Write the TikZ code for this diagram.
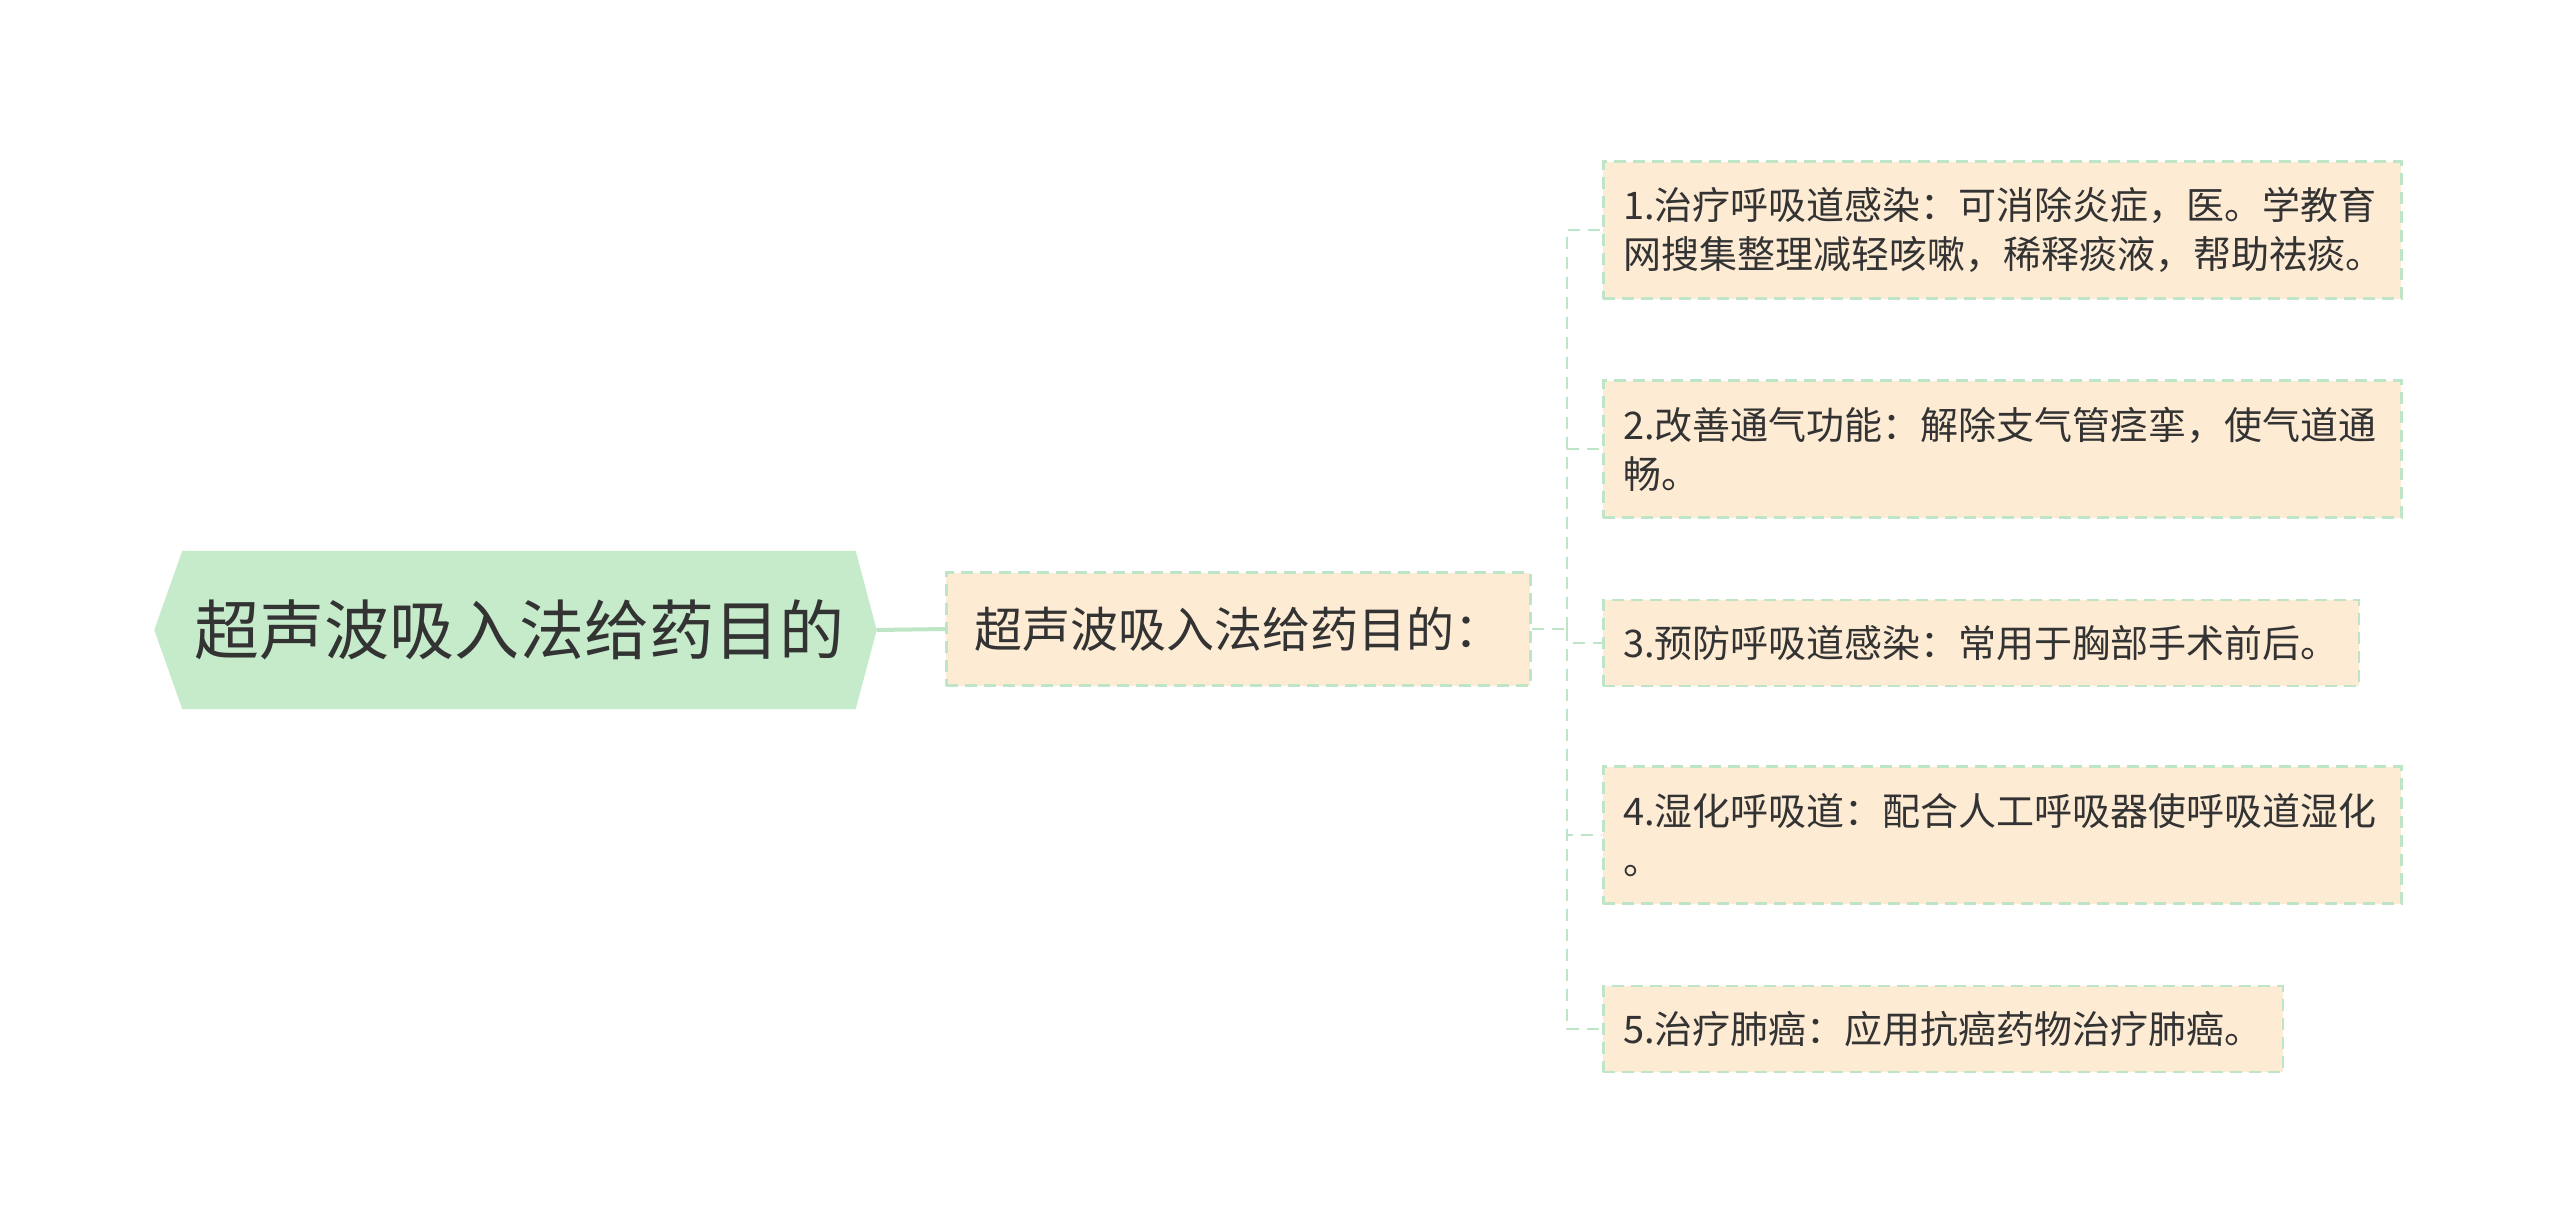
\documentclass[tikz,border=0pt]{standalone}
\usepackage{fontspec}
\setmainfont{Noto Sans CJK SC}
\usetikzlibrary{backgrounds}
\definecolor{rootgreen}{HTML}{C6EBCB}
\definecolor{boxpeach}{HTML}{FDEBD4}
\definecolor{linkgreen}{HTML}{BEE5C6}
\definecolor{inkgray}{HTML}{333333}
\tikzset{
  root node/.style={inner sep=0pt, minimum width=673pt, minimum height=158pt,
    text=inkgray, font=\fontsize{65}{78}\selectfont},
  topic box/.style={fill=boxpeach, draw=linkgreen, line width=2.5pt,
    dash pattern=on 12pt off 7pt, anchor=west, inner xsep=28pt, inner ysep=0pt,
    minimum height=113pt, text=inkgray, font=\fontsize{48}{58}\selectfont},
  item box/.style={fill=boxpeach, draw=linkgreen, line width=2.5pt,
    dash pattern=on 12pt off 7pt, anchor=west, inner xsep=20pt, inner ysep=0pt,
    align=left, text=inkgray, font=\fontsize{38}{49}\selectfont},
  root link/.style={draw=linkgreen, line width=4pt},
  branch link/.style={draw=linkgreen, line width=2.5pt, dash pattern=on 12pt off 8pt}
}

\begin{document}
\begin{tikzpicture}[x=1pt,y=-1pt]
	%% canvas, same size as the picture
	\useasboundingbox (0,0) rectangle (2560,1229);

	\def\forkX{1567} % x of the dashed trunk
	\def\itemX{1602} % left edge of the items

	%% root, a hexagon behind the text
	\node[root node] (root) at (519,630) {超声波吸入法给药目的};
	\coordinate (root tip) at ([xshift=21pt]root.east);
	\begin{scope}[on background layer]
		\fill[white] (0,0) rectangle (2560,1229);
		\fill[rootgreen] (root.north west) -- (root.north east) -- (root tip)
		  -- (root.south east) -- (root.south west) -- ([xshift=-28pt]root.west) -- cycle;
	\end{scope}

	%% middle topic
	\node[topic box] (topic) at (945,629) {超声波吸入法给药目的：};
	\draw[root link] (root tip) -- (topic.west);

	%% the five aims
	\node[item box, text width=758pt, minimum height=137pt] (aim1) at (\itemX,230)
	  {1.治疗呼吸道感染：可消除炎症，医。学教育\\网搜集整理减轻咳嗽，稀释痰液，帮助祛痰。};
	\node[item box, text width=758pt, minimum height=137pt] (aim2) at (\itemX,449)
	  {2.改善通气功能：解除支气管痉挛，使气道通\\畅。};
	\node[item box, minimum height=86pt] (aim3) at (\itemX,643)
	  {3.预防呼吸道感染：常用于胸部手术前后。};
	\node[item box, text width=758pt, minimum height=137pt] (aim4) at (\itemX,835)
	  {4.湿化呼吸道：配合人工呼吸器使呼吸道湿化\\。};
	\node[item box, minimum height=86pt] (aim5) at (\itemX,1029)
	  {5.治疗肺癌：应用抗癌药物治疗肺癌。};

	%% dashed branches
	\coordinate (fork) at (\forkX,629);
	\draw[branch link] (topic.east) -- (fork);
	\foreach \k in {1,...,5}
		\draw[branch link] (fork) |- (aim\k.west);
\end{tikzpicture}
\end{document}
